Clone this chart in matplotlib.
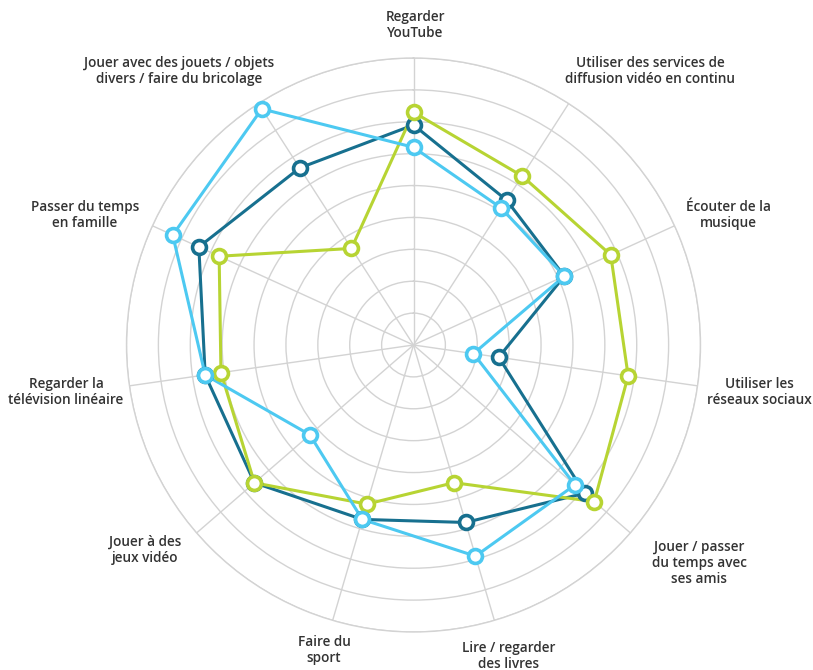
import numpy as np
import matplotlib
matplotlib.use("Agg")
import matplotlib.pyplot as plt

categories = [
    "Regarder\nYouTube",
    "Utiliser des services de\ndiffusion vidéo en continu",
    "Écouter de la\nmusique",
    "Utiliser les\nréseaux sociaux",
    "Jouer / passer\ndu temps avec\nses amis",
    "Lire / regarder\ndes livres",
    "Faire du\nsport",
    "Jouer à des\njeux vidéo",
    "Regarder la\ntélévision linéaire",
    "Passer du temps\nen famille",
    "Jouer avec des jouets / objets\ndivers / faire du bricolage",
]

# values (outer ring = 90)
green_vals = [73, 63, 68, 68, 75, 45, 52, 66, 61, 67, 36]
dark_vals = [69, 54, 52, 27, 71, 58, 57, 66, 66, 74, 66]
light_vals = [62, 51, 52, 19, 67, 69, 57, 43, 66, 83, 88]

# label centres in figure pixels (from top-left)
label_pos = [(415, 25), (650, 71), (728, 215), (759, 392), (699, 563),
             (509, 656), (324, 650), (145, 550), (66, 392), (85, 215), (179, 71)]

green = "#b7d433"
dark = "#17708f"
light = "#4dc9f1"
grid_col = "#d3d3d3"
text_col = "#333333"

W, H = 813, 670
n = len(categories)
angles = np.arange(n) * 2 * np.pi / n

fig = plt.figure(figsize=(W / 100, H / 100), dpi=100)
R = 287
cx, cy = 413.5, 345
ax = fig.add_axes([(cx - R) / W, (H - cy - R) / H, 2 * R / W, 2 * R / H],
                  projection="polar")
ax.set_theta_zero_location("N")
ax.set_theta_direction(-1)
ax.set_ylim(0, 90)
ax.set_yticks(range(10, 100, 10))
ax.set_yticklabels([])
ax.set_xticks(angles)
ax.set_xticklabels([])
ax.grid(True, color=grid_col, lw=1)
ax.spines["polar"].set_color(grid_col)
ax.spines["polar"].set_linewidth(1)
ax.tick_params(length=0)

series = [(dark_vals, dark), (green_vals, green), (light_vals, light)]
ang_c = np.append(angles, angles[0])
for vals, col in series:
    v = np.append(vals, vals[0])
    ax.plot(ang_c, v, color=col, lw=2.2, zorder=3, clip_on=False)
for vals, col in series:
    ax.plot(angles, vals, "o", ms=10, mfc="white", mec=col, mew=2.6,
            zorder=4, clip_on=False)

for lab, (px, py) in zip(categories, label_pos):
    fig.text(px / W, 1 - py / H, lab, ha="center", va="center", ma="center",
             fontsize=9.8, family="Open Sans", weight="semibold",
             color=text_col, linespacing=1.2)

fig.savefig("out.png", dpi=100)
